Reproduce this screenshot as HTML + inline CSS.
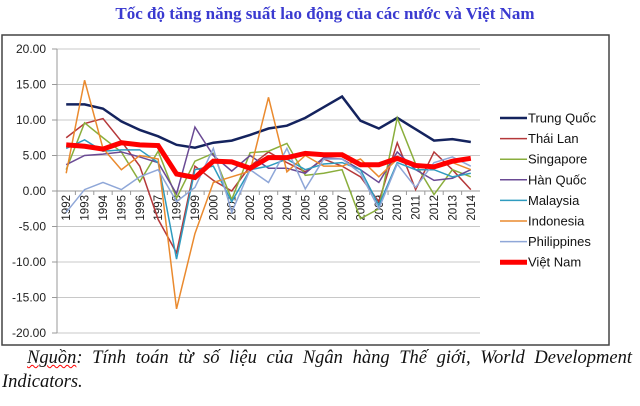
<!DOCTYPE html>
<html><head><meta charset="utf-8">
<style>
body{margin:0;width:640px;height:406px;background:#fff;overflow:hidden;position:relative;font-family:"Liberation Sans",sans-serif}
.title{position:absolute;left:0;width:650px;top:4px;text-align:center;font:bold 17px "Liberation Serif",serif;color:#3a3ad0}
.foot{position:absolute;font:italic 18.5px "Liberation Serif",serif;color:#111;white-space:nowrap}
</style></head><body>
<div class="title">Tốc độ tăng năng suất lao động của các nước và Việt Nam</div>
<svg id="chart" width="640" height="350" style="position:absolute;left:0;top:0">
<rect x="2" y="35" width="607" height="310" fill="#fff" stroke="#444" stroke-width="1.5"/>
</svg>
<div class="foot" style="left:27px;top:348px;width:605px;text-align:justify;text-align-last:justify"><span style="text-decoration:underline wavy red;text-decoration-thickness:1px">Nguồn</span>: Tính toán từ số liệu của Ngân hàng Thế giới, World Development</div>
<div class="foot" style="left:2px;top:372px">Indicators.</div>
<script>
const years=[1992,1993,1994,1995,1996,1997,1998,1999,2000,2001,2002,2003,2004,2005,2006,2007,2008,2009,2010,2011,2012,2013,2014];
const yTicks=[20,15,10,5,0,-5,-10,-15,-20];
const seriesNames=["Trung Quốc","Thái Lan","Singapore","Hàn Quốc","Malaysia","Indonesia","Philippines","Việt Nam"];
const seriesColors=["#14235e","#b5383a","#8aae3c","#6a4a94","#2f9bbf","#ea8a2e","#8fa7d8","#ff0000"];
const seriesWidths=[2.5,1.5,1.5,1.5,1.5,1.5,1.5,5];
const china=[12.2,12.2,11.6,9.8,8.6,7.7,6.5,6.1,6.8,7.1,7.9,8.8,9.2,10.3,11.8,13.3,9.9,8.8,10.3,8.7,7.1,7.3,6.9];
const thailand=[7.5,9.5,10.2,7.0,3.5,-4,-8.7,3.5,1.5,0.0,3.5,5.5,4.0,2.7,4.5,3.5,2.0,-1.5,6.8,0.2,5.5,3.0,0.2];
const singapore=[3,9.6,7.5,5.5,1.3,5.6,-1,4.2,5.3,-1.2,5.4,5.6,6.7,2.2,2.5,3.0,-3.9,-2.5,10.3,3.8,-0.5,3.0,2.0];
const korea=[3.7,5,5.2,5.5,4.8,4,-0.4,9,5,2.8,5.0,3.2,3.2,2.5,4.7,4.5,3.0,1.2,5.5,3.0,1.5,1.8,3.0];
const malaysia=[6,7.2,5.6,5.8,5.8,4,-9.6,3,3.5,-1.5,3.0,3.5,4.5,3.0,3.8,4.0,3.0,-2.0,4.0,3.0,3.0,2.0,2.5];
const indonesia=[2.5,15.6,6,3,5,4.5,-16.6,-6,1.2,2,2.8,13.2,2.7,5,3.5,3.5,4.5,2.0,4.5,3.5,3.5,4.0,3.0];
const philippines=[-3,0.2,1.2,0.2,2.0,3.0,-1.5,0.5,6,-3,3,1.2,6.0,0.3,4.5,4.5,2.5,-2.5,3.8,0.5,4.0,4.8,3.5];
const vietnam=[6.5,6.3,5.9,6.8,6.5,6.4,2.4,1.9,4.2,4.1,3.2,4.7,4.7,5.3,5.1,5.1,3.7,3.7,4.6,3.6,3.4,4.2,4.6];
const allSeries=[china,thailand,singapore,korea,malaysia,indonesia,philippines,vietnam];

const svg=document.getElementById('chart');
const NS='http://www.w3.org/2000/svg';
const x0=57,x1=480,yTop=49,yBot=333,yMax=20,yMin=-20;
const step=(x1-x0)/years.length;
const xs=i=>x0+step*(i+0.5);
const ys=v=>yTop+(yMax-v)/(yMax-yMin)*(yBot-yTop);
function mk(t,a){const e=document.createElementNS(NS,t);for(const k in a)e.setAttribute(k,a[k]);svg.appendChild(e);return e;}

yTicks.forEach(v=>{
  const g=mk('line',{x1:x0,x2:x1,y1:ys(v),y2:ys(v),stroke:'#c8c8c8','stroke-width':1});
  
  
  const tm=mk('line',{x1:x0-5,x2:x0,y1:ys(v),y2:ys(v),stroke:'#999'});
  
  
  const t=mk('text',{x:46,y:ys(v)+4,'text-anchor':'end','font-size':12,fill:'#222'});
  t.textContent=v.toFixed(2);
  
  
});
const ax=mk('line',{x1:x0,x2:x0,y1:yTop,y2:yBot,stroke:'#999'});


years.forEach((yr,i)=>{
  const tk=mk('line',{x1:x0+step*i,x2:x0+step*i,y1:ys(0),y2:ys(0)+4,stroke:'#999'});
  
  
  const t=mk('text',{x:0,y:0,'text-anchor':'end','font-size':11.5,fill:'#222',transform:`translate(${xs(i)+4},${ys(0)+4}) rotate(-90)`});
  t.textContent=yr;
  
  
});
const xa=mk('line',{x1:x0,x2:x1,y1:ys(0),y2:ys(0),stroke:'#999'});



allSeries.forEach((s,k)=>{
  const p=mk('polyline',{points:s.map((v,i)=>xs(i)+','+ys(v)).join(' '),fill:'none',stroke:seriesColors[k],'stroke-width':seriesWidths[k],'stroke-linejoin':'miter'});
  
  
});
seriesNames.forEach((n,k)=>{
  const ly=118+k*20.6;
  const l=mk('line',{x1:500,x2:527,y1:ly,y2:ly,stroke:seriesColors[k],'stroke-width':k==7?5:(k==0?2.5:1.5)});
  
  
  const t=mk('text',{x:528,y:ly+4.5,'font-size':13,fill:'#111'});
  t.textContent=n;
  
  
});
</script>
</body></html>
